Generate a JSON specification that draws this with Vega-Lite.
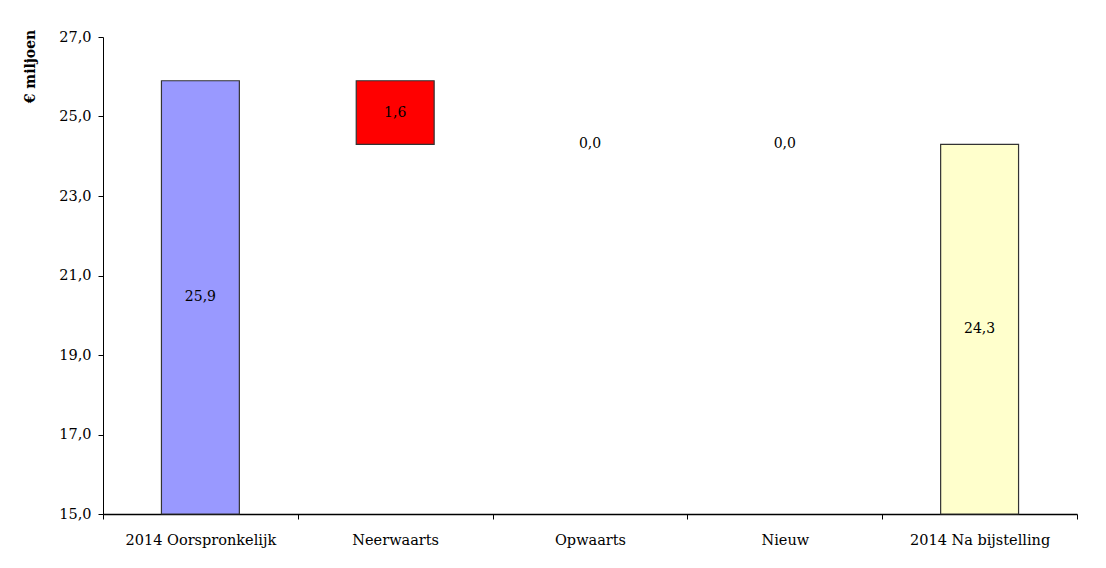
{
  "$schema": "https://vega.github.io/schema/vega-lite/v6.json",
  "autosize": "none",
  "width": 974,
  "height": 477,
  "padding": {"left": 103, "top": 37, "right": 29, "bottom": 54},
  "background": "white",
  "config": {
    "locale": {"number": {"decimal": ",", "thousands": ".", "grouping": [3], "currency": ["€", ""]}},
    "view": {"stroke": null},
    "font": "DejaVu Serif",
    "axis": {"labelFont": "DejaVu Serif", "titleFont": "DejaVu Serif", "labelColor": "black", "titleColor": "black", "domainColor": "black", "tickColor": "black", "grid": false, "labelFontSize": 14.5, "titleFontSize": 14}
  },
  "data": {
    "values": [
      {"category": "2014 Oorspronkelijk", "kind": "start", "start": 15, "end": 25.9, "amount": 25.9},
      {"category": "Neerwaarts", "kind": "down", "start": 25.9, "end": 24.3, "amount": 1.6},
      {"category": "Opwaarts", "kind": "up", "start": 24.3, "end": 24.3, "amount": 0.0},
      {"category": "Nieuw", "kind": "new", "start": 24.3, "end": 24.3, "amount": 0.0},
      {"category": "2014 Na bijstelling", "kind": "end", "start": 15, "end": 24.3, "amount": 24.3}
    ]
  },
  "encoding": {
    "x": {
      "field": "category", "type": "nominal",
      "sort": ["2014 Oorspronkelijk", "Neerwaarts", "Opwaarts", "Nieuw", "2014 Na bijstelling"],
      "scale": {"paddingInner": 0, "paddingOuter": 0},
      "axis": {"title": null, "labelAngle": 0, "tickBand": "extent", "tickSize": 5, "labelPadding": 14, "domainWidth": 1.5}
    }
  },
  "layer": [
    {
      "transform": [{"filter": "datum.start != datum.end"}],
      "mark": {"type": "bar", "width": {"band": 0.4}, "stroke": "#333333", "strokeWidth": 1.2},
      "encoding": {
        "y": {
          "field": "start", "type": "quantitative",
          "scale": {"domain": [15, 27], "zero": false, "nice": false},
          "axis": {"title": "€ miljoen", "format": ".1f", "values": [15, 17, 19, 21, 23, 25, 27], "tickSize": 5, "labelPadding": 7, "titleFontWeight": "bold", "titleAngle": -90, "titleX": -73, "titleY": 29, "titleAlign": "center", "titleBaseline": "middle", "domainWidth": 1}
        },
        "y2": {"field": "end"},
        "color": {
          "field": "kind", "type": "nominal", "legend": null,
          "scale": {"domain": ["start", "down", "up", "new", "end"], "range": ["#9999FF", "#FF0000", "#00CC00", "#FFCC00", "#FFFFCC"]}
        }
      }
    },
    {
      "transform": [{"calculate": "(datum.start + datum.end) / 2", "as": "mid"}],
      "mark": {"type": "text", "fontSize": 14, "font": "DejaVu Serif", "color": "black", "baseline": "middle"},
      "encoding": {
        "y": {"field": "mid", "type": "quantitative"},
        "text": {"field": "amount", "type": "quantitative", "format": ".1f"}
      }
    }
  ]
}
